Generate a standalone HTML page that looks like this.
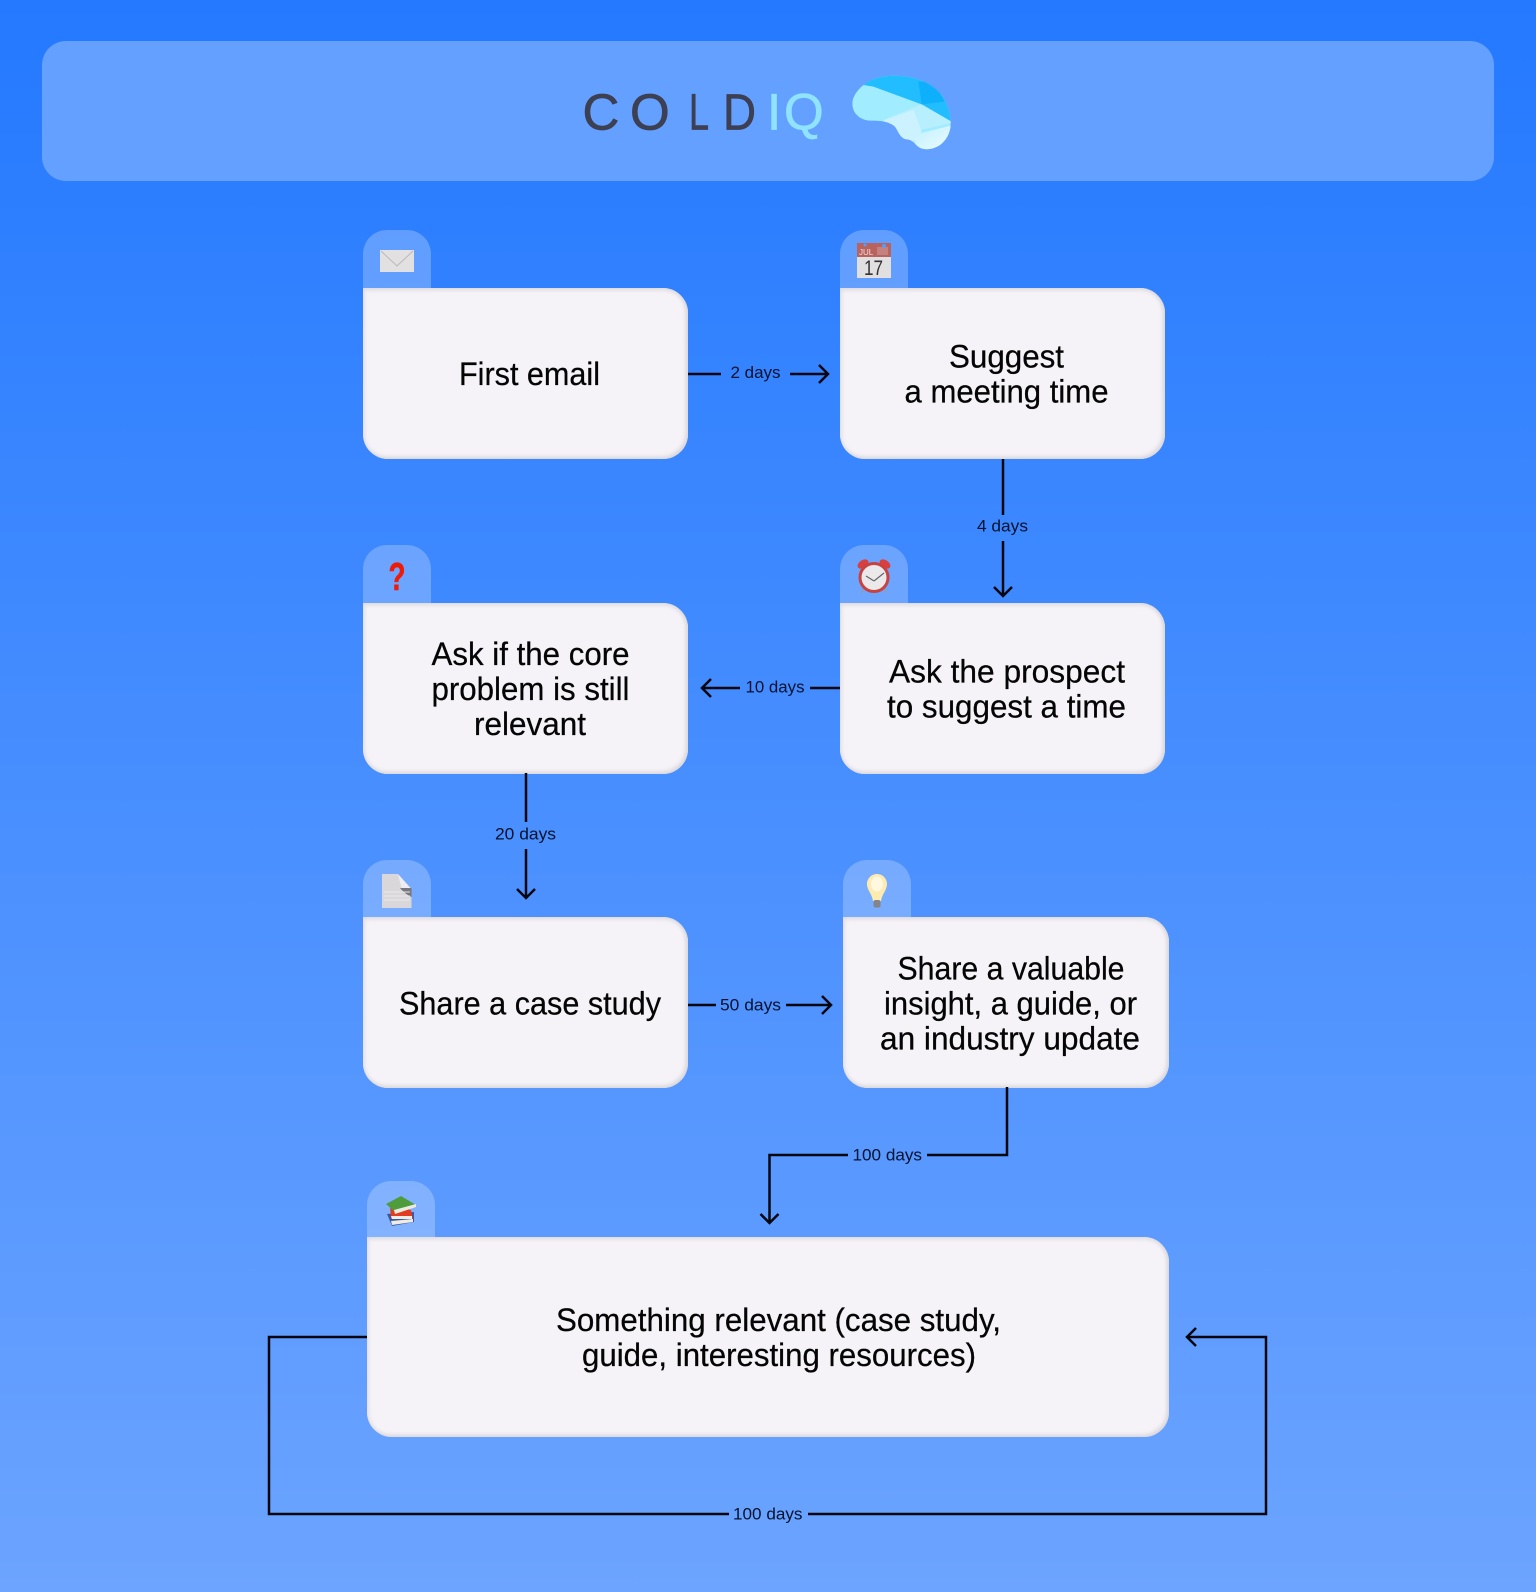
<!DOCTYPE html>
<html><head><meta charset="utf-8"><style>
html,body{margin:0;padding:0}
body{width:1536px;height:1592px;position:relative;overflow:hidden;background:linear-gradient(180deg,#2479ff 0%,#6ca4ff 100%);font-family:"Liberation Sans",sans-serif}
.h{position:absolute;left:42px;top:41px;width:1452px;height:140px;border-radius:24px;background:#64a0ff}
.t{position:absolute;width:68px;height:58px;border-radius:24px 24px 0 0;background:rgba(255,255,255,.24)}
.b{position:absolute;background:#f5f3f7;border-radius:0 25px 25px 25px;box-shadow:inset -2px -2px 4px #d9d6db,inset 0 2px 4px #dedce1,inset 2px 0 4px #e9e8eb}
svg{position:absolute;left:0;top:0}
.n{font-size:32px;fill:#050505;stroke:#050505;stroke-width:.25}
.c{font-size:16.5px;fill:#06122e}
</style></head><body>
<div class="h"></div>
<div class="t" style="left:363px;top:230px"></div>
<div class="t" style="left:840px;top:230px"></div>
<div class="t" style="left:363px;top:545px"></div>
<div class="t" style="left:840px;top:545px"></div>
<div class="t" style="left:363px;top:860px"></div>
<div class="t" style="left:843px;top:860px"></div>
<div class="t" style="left:367px;top:1181px;height:56px"></div>
<div class="b" style="left:363px;top:288px;width:325px;height:171px"></div>
<div class="b" style="left:840px;top:288px;width:325px;height:171px"></div>
<div class="b" style="left:363px;top:603px;width:325px;height:170.5px"></div>
<div class="b" style="left:840px;top:603px;width:325px;height:170.5px"></div>
<div class="b" style="left:363px;top:917px;width:325px;height:171px"></div>
<div class="b" style="left:843px;top:917px;width:326px;height:171px"></div>
<div class="b" style="left:367px;top:1237px;width:802px;height:199.5px"></div>
<svg width="1536" height="1592" viewBox="0 0 1536 1592" xmlns="http://www.w3.org/2000/svg">
<defs>
<clipPath id="br"><path d="M7 100C8 75 30 50 55 35C85 18 120 16 150 18C200 20 245 40 272 72C292 98 300 125 302 155C303 185 292 208 270 225C250 238 225 242 208 232C195 224 188 208 170 208C150 205 146 185 135 170C118 155 95 152 60 152C30 150 7 130 7 100Z"/></clipPath>
<linearGradient id="lo" x1="0" y1="0" x2="1" y2="1"><stop offset="0" stop-color="#bff0ff"/><stop offset="1" stop-color="#eefcff"/></linearGradient>
</defs>
<!-- logo -->
<g font-size="51" fill="#3d3f52" stroke="#3d3f52" stroke-width=".7" font-family="Liberation Sans,sans-serif">
<text x="582.5" y="129.5">C</text><text x="630" y="129.5">O</text>
<text x="689" y="129.5" textLength="20" lengthAdjust="spacingAndGlyphs">L</text>
<text x="723" y="129.5" textLength="33" lengthAdjust="spacingAndGlyphs">D</text>
<text x="767" y="129.5" fill="#8fe3ff" stroke="#8fe3ff">I</text><text x="784" y="129.5" fill="#8fe3ff" stroke="#8fe3ff">Q</text>
</g>
<g transform="translate(850 70) scale(.3333)" clip-path="url(#br)">
<rect width="330" height="260" fill="#a2ecff"/>
<polygon points="40,45 60,15 180,8 310,60 310,158 215,103 70,50" fill="#22bdff"/>
<polygon points="205,35 250,35 285,95 215,103" fill="#0fb0fb"/>
<polygon points="215,103 310,158 210,180 180,150 100,150" fill="#b8efff"/>
<polygon points="100,152 190,120 215,185 190,215 150,205" fill="#cdf2ff"/>
<polygon points="190,195 310,165 310,240 200,245" fill="url(#lo)"/>
</g>
<!-- nodes text -->
<g font-family="Liberation Sans,sans-serif">
<text class="n" x="459" y="385" textLength="141" lengthAdjust="spacingAndGlyphs">First email</text>
<text class="n" x="949" y="367.5" textLength="115" lengthAdjust="spacingAndGlyphs">Suggest</text>
<text class="n" x="904.5" y="402.5" textLength="204" lengthAdjust="spacingAndGlyphs">a meeting time</text>
<text class="n" x="431.5" y="665" textLength="198" lengthAdjust="spacingAndGlyphs">Ask if the core</text>
<text class="n" x="431.5" y="700" textLength="198" lengthAdjust="spacingAndGlyphs">problem is still</text>
<text class="n" x="474" y="735" textLength="112" lengthAdjust="spacingAndGlyphs">relevant</text>
<text class="n" x="889" y="682.5" textLength="236" lengthAdjust="spacingAndGlyphs">Ask the prospect</text>
<text class="n" x="887" y="717.5" textLength="239" lengthAdjust="spacingAndGlyphs">to suggest a time</text>
<text class="n" x="399" y="1014.5" textLength="262" lengthAdjust="spacingAndGlyphs">Share a case study</text>
<text class="n" x="897.5" y="979.5" textLength="227" lengthAdjust="spacingAndGlyphs">Share a valuable</text>
<text class="n" x="884" y="1014.5" textLength="253" lengthAdjust="spacingAndGlyphs">insight, a guide, or</text>
<text class="n" x="880" y="1049.5" textLength="260" lengthAdjust="spacingAndGlyphs">an industry update</text>
<text class="n" x="556" y="1331" textLength="445" lengthAdjust="spacingAndGlyphs">Something relevant (case study,</text>
<text class="n" x="582" y="1366" textLength="394" lengthAdjust="spacingAndGlyphs">guide, interesting resources)</text>
<!-- labels -->
<text class="c" x="730.5" y="378" textLength="50" lengthAdjust="spacingAndGlyphs">2 days</text>
<text class="c" x="977" y="531.5" textLength="51" lengthAdjust="spacingAndGlyphs">4 days</text>
<text class="c" x="745.5" y="692.5" textLength="59" lengthAdjust="spacingAndGlyphs">10 days</text>
<text class="c" x="495" y="839.5" textLength="61" lengthAdjust="spacingAndGlyphs">20 days</text>
<text class="c" x="720" y="1010.5" textLength="61" lengthAdjust="spacingAndGlyphs">50 days</text>
<text class="c" x="852.5" y="1160.5" textLength="69.5" lengthAdjust="spacingAndGlyphs">100 days</text>
<text class="c" x="733" y="1519.5" textLength="69.5" lengthAdjust="spacingAndGlyphs">100 days</text>
</g>
<!-- connectors -->
<g fill="none" stroke="#04060f" stroke-width="2.5">
<path d="M688 374H721M790 374H828M819 365L828 374L819 383"/>
<path d="M1003 459V515M1003 541V596M994 587L1003 596L1012 587"/>
<path d="M840 688H810M740 688H702M711 679L702 688L711 697"/>
<path d="M526 773V822M526 849V898M517 889L526 898L535 889"/>
<path d="M688 1005H716M786 1005H831M822 996L831 1005L822 1014"/>
<path d="M1007 1087V1155H927M848 1155H769.5V1223M760.5 1214L769.5 1223L778.5 1214"/>
<path d="M367 1337H269V1514H729M808 1514H1266V1337H1187M1196 1328L1187 1337L1196 1346"/>
</g>
<!-- envelope -->
<rect x="380" y="250" width="34" height="22" fill="#e3e0e2"/>
<path d="M381 251L397 266L413 251" fill="none" stroke="#b5b5b9" stroke-width=".9"/>
<!-- calendar -->
<rect x="857" y="243" width="34" height="35" fill="#e2dfe0"/>
<rect x="857" y="243" width="34" height="14" fill="#b9635f"/>
<text x="859" y="255" font-size="8" fill="#f0dcdc" font-family="Liberation Sans,sans-serif">JUL</text>
<rect x="877" y="247" width="11" height="8" fill="#c5817f"/>
<circle cx="865" cy="245" r="1.5" fill="#5c9cf0"/><circle cx="884" cy="246" r="2" fill="#5c9cf0"/>
<text x="864" y="275" font-size="21" fill="#333" font-family="Liberation Sans,sans-serif" textLength="19" lengthAdjust="spacingAndGlyphs">17</text>
<!-- question -->
<text x="388.5" y="590" font-size="39" font-weight="700" fill="#f01a05" stroke="#f01a05" stroke-width=".6" font-family="Liberation Sans,sans-serif" textLength="17" lengthAdjust="spacingAndGlyphs">?</text>
<!-- clock -->
<ellipse cx="863" cy="564" rx="6" ry="3.8" transform="rotate(-35 863 564)" fill="#d8403f"/>
<ellipse cx="885" cy="564" rx="6" ry="3.8" transform="rotate(35 885 564)" fill="#d8403f"/>
<path d="M865 588L861 593M883 588L887 593" stroke="#9a9a9a" stroke-width="1.3"/>
<circle cx="874" cy="577.5" r="14" fill="#ece9eb" stroke="#c8423f" stroke-width="3"/>
<path d="M874 581L866 576M874 581L884 573" stroke="#666" stroke-width="1.2" fill="none"/>
<!-- doc -->
<path d="M382 874H398L411.5 891V908H382Z" fill="#d9d7d9"/>
<path d="M398 874L411.5 889L402 890Z" fill="#eeeef0"/>
<path d="M400 888H411.5V897Q405 894 400 888Z" fill="#77777c"/>
<path d="M384 892H410M384 896H410M384 900H410" stroke="#eceaec" stroke-width="1"/>
<!-- bulb -->
<path d="M877 874C883 874 887 879 887 884C887 890 882 894 881 901H873C872 894 867 890 867 884C867 879 871 874 877 874Z" fill="#fdebb0"/>
<ellipse cx="877" cy="884" rx="6" ry="7.5" fill="#fff8e0"/>
<rect x="873.5" y="900" width="7" height="7.5" rx="2" fill="#84858b"/>
<!-- books -->
<g>
<path d="M387 1214L414 1212L414 1222L392 1226Z" fill="#3559a8"/>
<path d="M391 1221L413 1219V1222L392 1225Z" fill="#f0ecdf"/>
<path d="M390 1206L411 1210L413 1219L391 1219Z" fill="#e33c1e"/>
<path d="M391 1216L412 1216V1219L392 1219Z" fill="#f2eee6"/>
<path d="M386 1204L401 1196L416 1205L395 1212Z" fill="#4f9c3c"/>
<path d="M394 1210L416 1204V1207L395 1214Z" fill="#e9ecdf"/>
</g>
</svg>
</body></html>
